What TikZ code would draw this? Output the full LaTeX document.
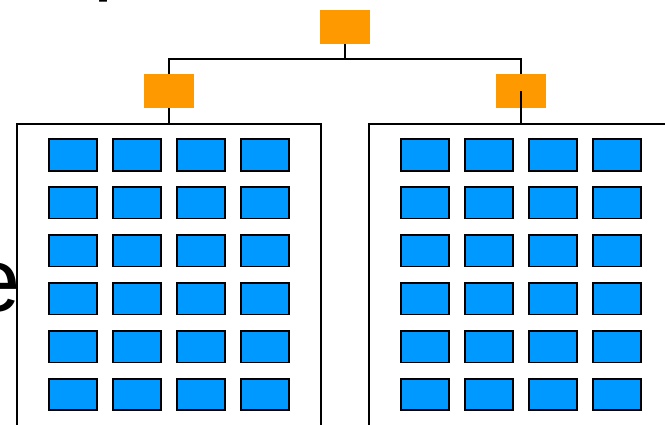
\documentclass[tikz,border=0pt]{standalone}
\usepackage{fontspec}
\setmainfont{Liberation Sans}
\definecolor{switchorange}{HTML}{FF9900}
\definecolor{serverblue}{HTML}{0099FF}
\begin{document}
\begin{tikzpicture}[
    x=1pt, y=-1pt,
    switch/.style={rectangle, fill=switchorange, minimum width=50pt, minimum height=34pt, inner sep=0pt},
    rack/.style={rectangle, draw, line width=1.5pt, fill=white, minimum width=304pt, minimum height=330pt, inner sep=0pt, anchor=north},
    server/.style={rectangle, draw, line width=1.6pt, fill=serverblue, minimum width=48pt, minimum height=31.5pt, inner sep=0pt},
    link/.style={line width=1.5pt},
    bigtext/.style={anchor=base west, inner sep=0pt, font=\fontsize{90}{90}\selectfont}
]
\useasboundingbox (0,0) rectangle (665,424);

% Cut-off slide text
\node[bigtext] (titletext) at (93.5,-16.5) {p};
\node[bigtext] (sidetext) at (-30,311) {e};

% Racks
\node[rack] (rackL) at (169,123) {};
\node[rack] (rackR) at (521,123) {};

% Switches
\node[switch] (root) at (345,27) {};
\node[switch] (leftsw) at (169,91) {};
\node[switch] (rightsw) at (521,91) {};

% Servers in each rack
\foreach \row in {0,...,5} {
    \foreach \col in {0,...,3} {
        \node[server] (srvL-\row-\col) at (73+64*\col, 155+47.9*\row) {};
        \node[server] (srvR-\row-\col) at (425+64*\col, 155+47.9*\row) {};
    }
}

% Links from root switch
\draw[link] (root.south) -- ++(0,15) -| (leftsw.north);
\draw[link] (root.south) -- ++(0,15) -| (rightsw.north);

% Links to racks
\draw[link] (leftsw.south) -- (rackL.north);
\draw[link] (rightsw.center) -- (rackR.north);

\end{tikzpicture}
\end{document}
